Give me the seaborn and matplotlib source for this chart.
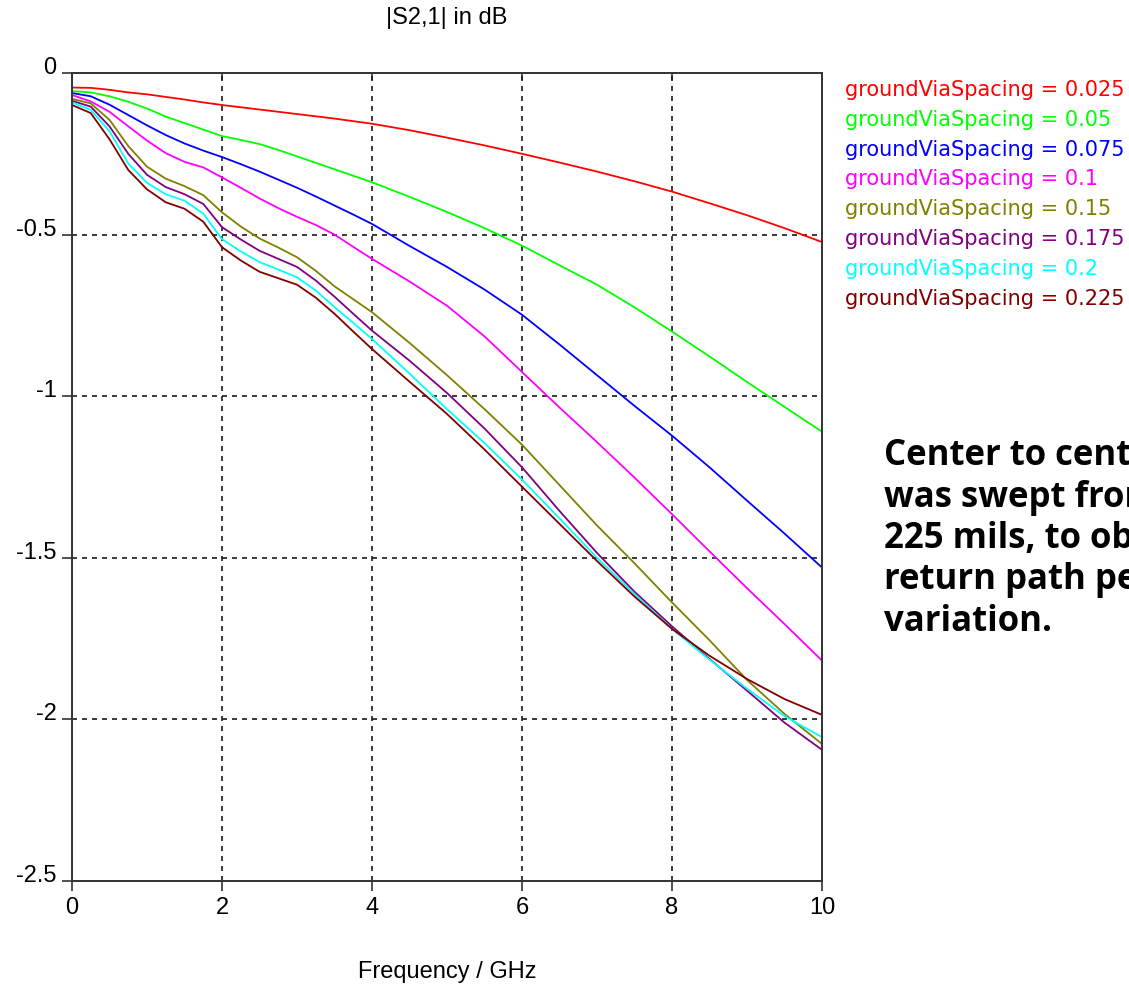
import pandas as pd
import matplotlib
matplotlib.use("Agg")
import matplotlib.pyplot as plt
import seaborn as sns

# frequency grid (GHz) the curves were read at
freq = [0, 0.25, 0.5, 0.75, 1, 1.25, 1.5, 1.75, 2, 2.25, 2.5, 2.75, 3, 3.25, 3.5, 3.75, 4,
        4.5, 5, 5.5, 6, 6.5, 7, 7.5, 8, 8.5, 9, 9.5, 10]

# |S2,1| in dB, one list per groundViaSpacing value
via_0025 = [-0.045, -0.046, -0.052, -0.060, -0.066, -0.074, -0.082, -0.091, -0.099, -0.106, -0.113, -0.120,
            -0.127, -0.134, -0.141, -0.149, -0.157,
            -0.177, -0.200, -0.224, -0.250, -0.277, -0.305, -0.335, -0.367, -0.403, -0.440, -0.480, -0.523]
via_005 = [-0.056, -0.060, -0.072, -0.089, -0.110, -0.135, -0.155, -0.175, -0.195, -0.207, -0.220, -0.238,
           -0.258, -0.278, -0.298, -0.318, -0.338,
           -0.383, -0.430, -0.480, -0.534, -0.595, -0.655, -0.725, -0.800, -0.877, -0.956, -1.033, -1.110]
via_0075 = [-0.062, -0.072, -0.098, -0.130, -0.162, -0.192, -0.218, -0.240, -0.260, -0.282, -0.305, -0.330,
            -0.355, -0.382, -0.410, -0.438, -0.467,
            -0.535, -0.600, -0.670, -0.748, -0.840, -0.935, -1.030, -1.122, -1.220, -1.323, -1.425, -1.530]
via_01 = [-0.068, -0.088, -0.120, -0.165, -0.209, -0.248, -0.275, -0.292, -0.323, -0.355, -0.388, -0.418,
          -0.445, -0.470, -0.500, -0.538, -0.575,
          -0.645, -0.720, -0.815, -0.925, -1.035, -1.142, -1.252, -1.365, -1.480, -1.594, -1.705, -1.818]
via_015 = [-0.080, -0.094, -0.145, -0.226, -0.290, -0.327, -0.350, -0.378, -0.431, -0.475, -0.512, -0.540,
           -0.570, -0.612, -0.660, -0.700, -0.740,
           -0.835, -0.935, -1.040, -1.150, -1.275, -1.400, -1.517, -1.638, -1.755, -1.878, -1.983, -2.076]
via_0175 = [-0.086, -0.104, -0.165, -0.250, -0.315, -0.353, -0.375, -0.405, -0.477, -0.515, -0.550, -0.575,
            -0.600, -0.642, -0.692, -0.745, -0.797,
            -0.890, -0.990, -1.100, -1.220, -1.355, -1.485, -1.605, -1.712, -1.813, -1.911, -2.010, -2.094]
via_02 = [-0.091, -0.114, -0.180, -0.280, -0.340, -0.375, -0.395, -0.435, -0.514, -0.552, -0.585, -0.608,
          -0.632, -0.673, -0.724, -0.773, -0.823,
          -0.930, -1.040, -1.145, -1.258, -1.378, -1.500, -1.612, -1.720, -1.815, -1.905, -1.990, -2.055]
via_0225 = [-0.099, -0.124, -0.205, -0.300, -0.360, -0.400, -0.420, -0.460, -0.539, -0.580, -0.615, -0.635,
            -0.655, -0.695, -0.745, -0.800, -0.854,
            -0.955, -1.055, -1.165, -1.280, -1.395, -1.510, -1.620, -1.720, -1.803, -1.875, -1.937, -1.986]

spacings = ["0.025", "0.05", "0.075", "0.1", "0.15", "0.175", "0.2", "0.225"]
colors = ["#ff0000", "#00ff00", "#0000ff", "#ff00ff", "#808000", "#800080", "#00ffff", "#800000"]
x_ticks = [0, 2, 4, 6, 8, 10]
y_ticks = [0, -0.5, -1, -1.5, -2, -2.5]
y_tick_labels = ["0", "-0.5", "-1", "-1.5", "-2", "-2.5"]
note_lines = ["Center to center via spacing", "was swept from 25 mils to",
              "225 mils, to observe the", "return path performance", "variation."]

series = [via_0025, via_005, via_0075, via_01, via_015, via_0175, via_02, via_0225]
labels = ["groundViaSpacing = " + s for s in spacings]

# long format for seaborn
frames = []
for lab, vals in zip(labels, series):
    frames.append(pd.DataFrame({"freq": freq, "s21": vals, "label": lab}))
df = pd.concat(frames, ignore_index=True)

sns.set_style("white")
plt.rcParams["font.family"] = ["DejaVu Sans"]
plt.rcParams["axes.unicode_minus"] = False
plt.rcParams["text.color"] = "black"
plt.rcParams["xtick.color"] = "black"
plt.rcParams["ytick.color"] = "black"
plt.rcParams["xtick.labelcolor"] = "black"
plt.rcParams["ytick.labelcolor"] = "black"
tick_font = ["Liberation Sans", "DejaVu Sans"]

W, H = 1129, 987
fig = plt.figure(figsize=(W / 100, H / 100), dpi=100)
ax = fig.add_axes([72 / W, 1 - 882 / H, 750 / W, 808 / H])

sns.lineplot(data=df, x="freq", y="s21", hue="label", hue_order=labels,
             palette=colors, linewidth=1.3, ax=ax, sort=False)

ax.set_xlim(0, 10)
ax.set_ylim(-2.5, 0)
ax.set_xticks(x_ticks)
ax.set_xticklabels([str(t) for t in x_ticks], family=tick_font, fontsize=17)
ax.set_yticks(y_ticks)
ax.set_yticklabels(y_tick_labels, family=tick_font, fontsize=17, va="baseline")
ax.set_xlabel("")
ax.set_ylabel("")

# dashed black grid
ax.grid(True, color="#1a1a1a", linestyle=(0, (3, 3)), linewidth=1.2)
for sp in ax.spines.values():
    sp.set_color("#333333")
    sp.set_linewidth(1.4)
# seaborn's white style switches tick marks off, turn them back on
ax.tick_params(axis="both", bottom=True, left=True, direction="out", length=7,
               width=1.2, color="#333333", pad=4)

# short inward ticks along the top edge
top = ax.secondary_xaxis("top")
top.set_xticks(x_ticks)
top.tick_params(top=True, direction="in", length=5, width=1.2, color="#333333", labeltop=False)
top.spines["top"].set_visible(False)

# text-only coloured legend outside the axes
handles, labs = ax.get_legend_handles_labels()
ax.get_legend().remove()
leg = fig.legend(handles, labs, loc="upper left", bbox_to_anchor=(845 / W, 1 - 80 / H),
                 frameon=False, handlelength=0, handletextpad=0, borderpad=0,
                 borderaxespad=0, labelspacing=0.47, labelcolor="linecolor",
                 prop={"family": "DejaVu Sans", "size": 15})
for h in leg.legend_handles:
    h.set_visible(False)

fig.text(447 / W, 1 - 18 / H, "|S2,1| in dB", ha="center", va="center", family=tick_font, fontsize=17)
fig.text(447 / W, 1 - 972 / H, "Frequency / GHz", ha="center", va="center", family=tick_font, fontsize=17)

# note on the right, runs past the figure edge like the original
for i, line in enumerate(note_lines):
    fig.text(884 / W, 1 - (456 + 41.5 * i) / H, line, ha="left", va="center",
             family=["Open Sans", "DejaVu Sans"], fontweight="bold", fontsize=25, color="black")

fig.savefig("out.png", dpi=100)
